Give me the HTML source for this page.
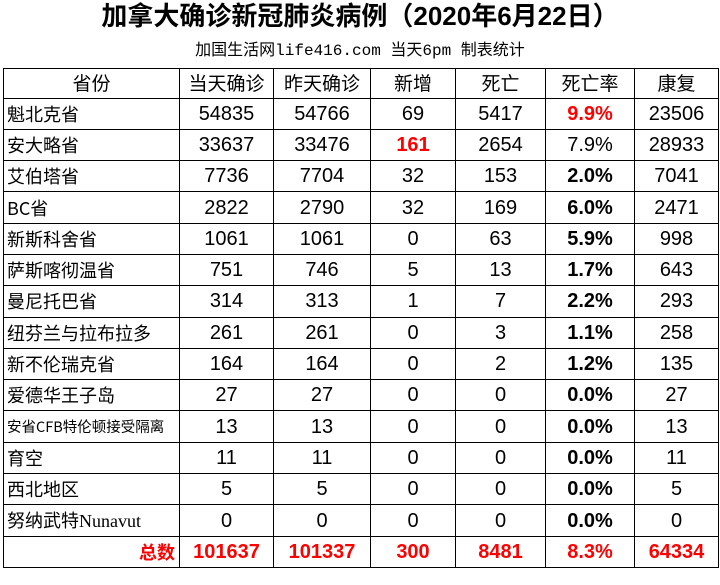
<!DOCTYPE html>
<html><head><meta charset="utf-8"><style>
body{margin:0;width:720px;height:585px;background:#fff;font-family:"Liberation Sans","Noto Sans CJK SC",sans-serif;overflow:hidden;position:relative}
.t{position:absolute;top:1px;left:0;width:720px;text-align:center;font-weight:bold;font-size:26px;line-height:30px;color:#000}
.s{position:absolute;top:40px;left:0;width:720px;text-align:center;font-size:16px;line-height:22px;font-family:"Liberation Mono","Noto Sans CJK SC",monospace}
table{position:absolute;left:3px;top:68px;border-collapse:collapse;table-layout:fixed}
td{border:1.5px solid #000;height:30.3px;padding:0;text-align:center;font-family:"Liberation Sans Narrow","Liberation Sans","Noto Sans CJK SC",sans-serif;font-size:20px;line-height:20px;white-space:nowrap;overflow:hidden}
tr:first-child td{height:28.5px;font-family:"Noto Sans CJK SC",sans-serif;font-size:19px}
td:first-child{text-align:left;padding-left:3px;font-family:"Noto Sans CJK SC",sans-serif;font-size:18px}
.b{font-weight:bold}.r{color:#f00;font-weight:bold}
.tot td{color:#f00;font-weight:bold}
.tot td:first-child{text-align:right;padding-right:4px}
</style></head><body>
<div class="t">加拿大确诊新冠肺炎病例（2020年6月22日）</div>
<div class="s">加国生活网life416.com 当天6pm 制表统计</div>
<table>
<colgroup><col style="width:176px"><col style="width:94px"><col style="width:97px"><col style="width:85px"><col style="width:90px"><col style="width:89px"><col style="width:84px"></colgroup>
<tr><td style="text-align:center;padding:0">省份</td><td>当天确诊</td><td>昨天确诊</td><td>新增</td><td>死亡</td><td>死亡率</td><td>康复</td></tr>
<tr><td>魁北克省</td><td>54835</td><td>54766</td><td>69</td><td>5417</td><td class="r">9.9%</td><td>23506</td></tr>
<tr><td>安大略省</td><td>33637</td><td>33476</td><td class="r">161</td><td>2654</td><td>7.9%</td><td>28933</td></tr>
<tr><td>艾伯塔省</td><td>7736</td><td>7704</td><td>32</td><td>153</td><td class="b">2.0%</td><td>7041</td></tr>
<tr><td>BC省</td><td>2822</td><td>2790</td><td>32</td><td>169</td><td class="b">6.0%</td><td>2471</td></tr>
<tr><td>新斯科舍省</td><td>1061</td><td>1061</td><td>0</td><td>63</td><td class="b">5.9%</td><td>998</td></tr>
<tr><td>萨斯喀彻温省</td><td>751</td><td>746</td><td>5</td><td>13</td><td class="b">1.7%</td><td>643</td></tr>
<tr><td>曼尼托巴省</td><td>314</td><td>313</td><td>1</td><td>7</td><td class="b">2.2%</td><td>293</td></tr>
<tr><td>纽芬兰与拉布拉多</td><td>261</td><td>261</td><td>0</td><td>3</td><td class="b">1.1%</td><td>258</td></tr>
<tr><td>新不伦瑞克省</td><td>164</td><td>164</td><td>0</td><td>2</td><td class="b">1.2%</td><td>135</td></tr>
<tr><td>爱德华王子岛</td><td>27</td><td>27</td><td>0</td><td>0</td><td class="b">0.0%</td><td>27</td></tr>
<tr><td style="font-size:14.5px">安省CFB特伦顿接受隔离</td><td>13</td><td>13</td><td>0</td><td>0</td><td class="b">0.0%</td><td>13</td></tr>
<tr><td>育空</td><td>11</td><td>11</td><td>0</td><td>0</td><td class="b">0.0%</td><td>11</td></tr>
<tr><td>西北地区</td><td>5</td><td>5</td><td>0</td><td>0</td><td class="b">0.0%</td><td>5</td></tr>
<tr><td>努纳武特<span style="font-family:'Liberation Serif',serif">Nunavut</span></td><td>0</td><td>0</td><td>0</td><td>0</td><td class="b">0.0%</td><td>0</td></tr>
<tr class="tot"><td>总数</td><td>101637</td><td>101337</td><td>300</td><td>8481</td><td>8.3%</td><td>64334</td></tr>
</table>
</body></html>
